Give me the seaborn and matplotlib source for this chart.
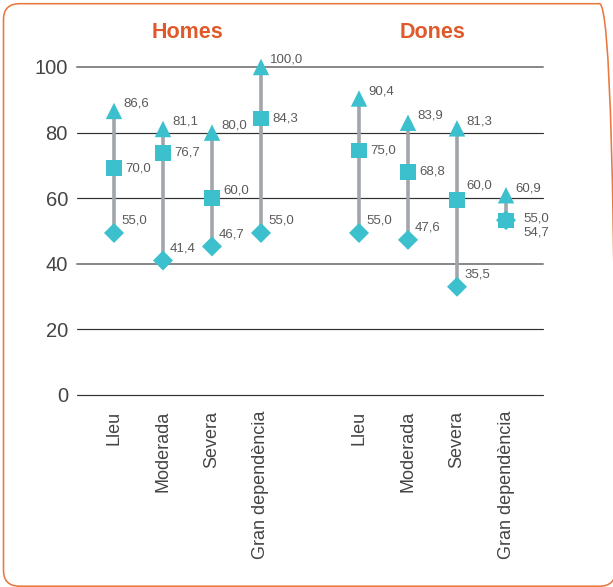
import numpy as np
import pandas as pd
import matplotlib
matplotlib.use("Agg")
import matplotlib.pyplot as plt
import seaborn as sns
from matplotlib.patches import FancyBboxPatch

# ---------------- data ----------------
panels = ["Homes", "Dones"]
categories = ["Lleu", "Moderada", "Severa", "Gran dependència"]

# marker positions
homes_max = [86.6, 81.1, 80.0, 100.0]
homes_mid = [69.2, 73.8, 60.0, 84.3]
homes_min = [49.4, 41.0, 45.3, 49.4]
dones_max = [90.4, 83.0, 81.3, 60.9]
dones_mid = [74.5, 68.0, 59.5, 53.2]
dones_min = [49.4, 47.3, 33.0, 53.3]

# value labels printed next to the markers
homes_max_lbl = ["86,6", "81,1", "80,0", "100,0"]
homes_mid_lbl = ["70,0", "76,7", "60,0", "84,3"]
homes_min_lbl = ["55,0", "41,4", "46,7", "55,0"]
dones_max_lbl = ["90,4", "83,9", "81,3", "60,9"]
dones_mid_lbl = ["75,0", "68,8", "60,0", "55,0"]
dones_min_lbl = ["55,0", "47,6", "35,5", "54,7"]

yticks = [0, 20, 40, 60, 80, 100]

# ---------------- style ----------------
TEAL = "#3DC0CD"
GRAY_LINE = "#A2A6AA"
ORANGE = "#E0592A"
BORDER = "#E8793F"
PX = 72 / 100.0  # points per pixel at dpi 100

series_marker = {"min": "D", "mid": "s", "max": "^"}
series_size = {"min": 104, "mid": 125, "max": 140}
# default label offsets (pixels: dx right, dy up)
series_offset = {"min": (7, 12), "mid": (11, 0), "max": (9, 7)}
offset_override = {
    ("Homes", 2, "mid"): (11, 8),
    ("Dones", 2, "mid"): (9, 14),
    ("Dones", 3, "mid"): (17, 2),
    ("Dones", 3, "min"): (17, -12),
}

sns.set_theme(style="white")
plt.rcParams["font.family"] = ["Liberation Sans", "DejaVu Sans"]

# ---------------- table ----------------
values = {
    "Homes": {"max": homes_max, "mid": homes_mid, "min": homes_min},
    "Dones": {"max": dones_max, "mid": dones_mid, "min": dones_min},
}
labels = {
    "Homes": {"max": homes_max_lbl, "mid": homes_mid_lbl, "min": homes_min_lbl},
    "Dones": {"max": dones_max_lbl, "mid": dones_mid_lbl, "min": dones_min_lbl},
}
rows = []
for s in ["min", "mid", "max"]:
    for p_i, p in enumerate(panels):
        for c_i, c in enumerate(categories):
            rows.append(dict(panel=p, cat_i=c_i, category=c,
                             x=c_i + 5 * p_i, series=s,
                             value=values[p][s][c_i], label=labels[p][s][c_i]))
df = pd.DataFrame(rows)

# ---------------- figure ----------------
fig = plt.figure(figsize=(6.13, 5.87), dpi=100)
ax = fig.add_axes([77 / 613, 1 - 395 / 587, (543 - 77) / 613, (395 - 67) / 587])
ax.set_xlim(-0.755, 8.755)
ax.set_ylim(0, 100)
for sp in ax.spines.values():
    sp.set_visible(False)

for t in yticks:
    if t in (40, 100):
        ax.axhline(t, color="#8A8A8A", lw=2 * PX, zorder=1, clip_on=False)
    else:
        ax.axhline(t, color="#333333", lw=1.2 * PX, zorder=1, clip_on=False)

# range lines
rng = df.groupby("x")["value"].agg(["min", "max"]).reset_index()
ax.vlines(rng["x"], rng["min"], rng["max"], color=GRAY_LINE, lw=3.6 * PX, zorder=2)

sns.scatterplot(data=df, x="x", y="value", style="series", markers=series_marker,
                size="series", sizes=series_size, color=TEAL, linewidth=0,
                edgecolor="none", legend=False, ax=ax, zorder=3, clip_on=False)

for _, r in df.iterrows():
    dx, dy = offset_override.get((r["panel"], r["cat_i"], r["series"]),
                                 series_offset[r["series"]])
    ax.annotate(r["label"], (r["x"], r["value"]), xytext=(dx * PX, dy * PX),
                textcoords="offset points", ha="left", va="center",
                fontsize=9.5, color="#5A5A5A", zorder=4)

ax.set_yticks(yticks)
ax.set_yticklabels([str(t) for t in yticks], fontsize=14.5, color="#444444")
xt = sorted(df["x"].unique())
ax.set_xticks(xt)
ax.set_xticklabels(categories * 2, rotation=90, fontsize=13, color="#444444",
                   va="top", ha="center")
ax.tick_params(axis="y", length=0, pad=6.5)
ax.tick_params(axis="x", length=0, pad=11.5)
ax.set_xlabel("")
ax.set_ylabel("")

# panel titles
for p_i, p in enumerate(panels):
    xc = ax.transData.transform((1.5 + 5 * p_i, 0))[0]
    fig.text(xc / 613, 1 - 33 / 587, p, ha="center", va="center",
             fontsize=15.5, fontweight="bold", color=ORANGE)

# rounded frame
frame = FancyBboxPatch((3.5, 0.8), 612, 582.5,
                       boxstyle="round,pad=0,rounding_size=16",
                       transform=None, fill=False, edgecolor=BORDER, lw=1.6 * PX)
fig.patches.append(frame)

fig.savefig("out.png", dpi=100)
